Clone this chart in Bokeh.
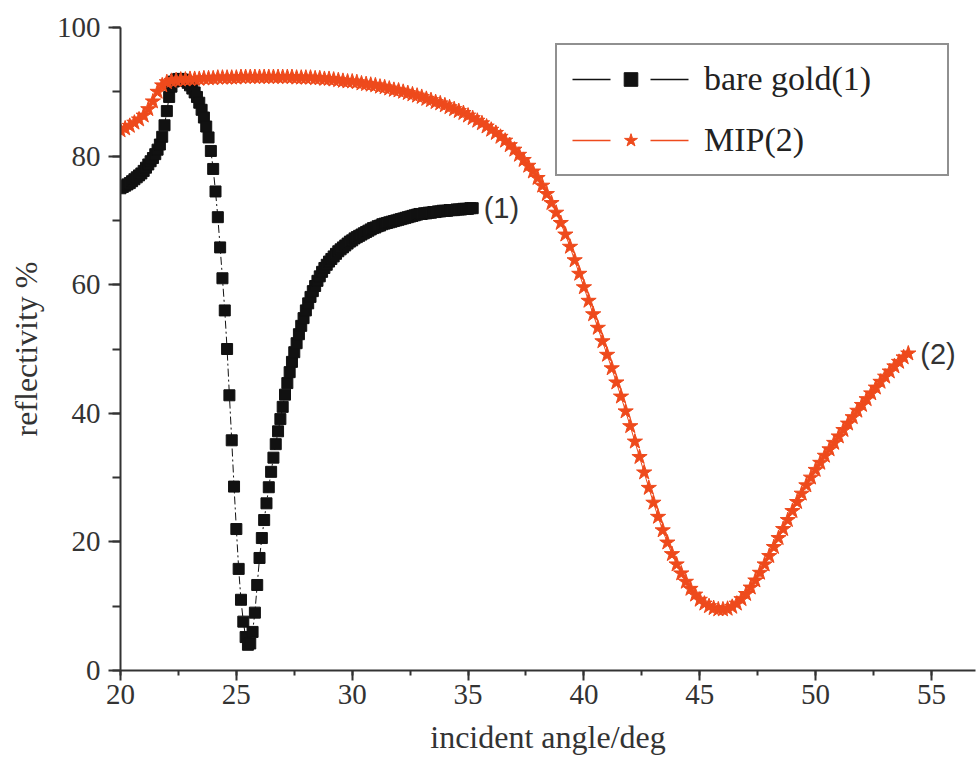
import numpy as np
from bokeh.plotting import figure
from bokeh.models import Range1d, SingleIntervalTicker, Legend, LegendItem, Label
from bokeh.embed import file_html
from bokeh.resources import INLINE

# ---- data ----
# incident angle grids (degrees)
gold_angle = np.round(np.arange(0, 153) * 0.1 + 20.0, 1)   # 20.0 .. 35.2, step 0.1
mip_angle = np.round(np.arange(0, 171) * 0.2 + 20.0, 1)    # 20.0 .. 54.0, step 0.2

# bare gold (1) reflectivity %
gold_refl = [
    75.0, 75.2, 75.4, 75.6, 75.8, 76.1, 76.4, 76.7, 77.0, 77.3,
    77.7, 78.2, 78.7, 79.2, 79.7, 80.3, 81.0, 81.8, 83.0, 84.8,
    87.0, 89.2, 90.8, 91.6, 91.9, 92.0, 92.0, 91.9, 91.7, 91.4,
    91.0, 90.5, 89.9, 89.2, 88.3, 87.2, 86.0, 84.6, 82.9, 80.8,
    78.0, 74.5, 70.5, 65.8, 61.0, 56.0, 50.0, 42.8, 35.8, 28.6,
    22.0, 15.8, 11.0, 7.6, 5.2, 4.0, 4.2, 6.0, 9.0, 13.3,
    17.5, 20.6, 23.4, 26.0, 28.5, 30.9, 33.1, 35.2, 37.2, 39.1,
    41.0, 42.9, 44.7, 46.4, 48.0, 49.5, 50.9, 52.3, 53.6, 54.8,
    56.0, 57.1, 58.1, 59.0, 59.8, 60.6, 61.3, 62.0, 62.6, 63.1,
    63.6, 64.0, 64.4, 64.8, 65.2, 65.5, 65.8, 66.1, 66.4, 66.7,
    66.9, 67.2, 67.4, 67.6, 67.8, 68.0, 68.2, 68.4, 68.6, 68.8,
    68.9, 69.1, 69.2, 69.4, 69.5, 69.6, 69.7, 69.8, 69.9, 70.0,
    70.1, 70.2, 70.3, 70.4, 70.5, 70.6, 70.7, 70.8, 70.9, 71.0,
    71.0, 71.1, 71.1, 71.2, 71.2, 71.3, 71.3, 71.4, 71.4, 71.5,
    71.5, 71.5, 71.6, 71.6, 71.6, 71.7, 71.7, 71.7, 71.8, 71.8,
    71.8, 71.9, 71.9,
]

# MIP (2) reflectivity %
mip_refl = [
    84.0, 84.3, 84.7, 85.2, 85.7, 86.3, 87.3, 88.5, 90.0, 91.0,
    91.5, 91.7, 91.8, 91.9, 91.9, 92.0, 92.0, 92.0, 92.1, 92.1,
    92.1, 92.2, 92.2, 92.2, 92.2, 92.2, 92.3, 92.3, 92.3, 92.3,
    92.3, 92.3, 92.3, 92.3, 92.3, 92.3, 92.3, 92.3, 92.2, 92.2,
    92.2, 92.2, 92.1, 92.1, 92.0, 92.0, 91.9, 91.8, 91.7, 91.6,
    91.6, 91.5, 91.3, 91.2, 91.1, 91.0, 90.8, 90.7, 90.5, 90.3,
    90.2, 90.0, 89.8, 89.6, 89.4, 89.2, 88.9, 88.7, 88.4, 88.2,
    87.9, 87.6, 87.3, 87.0, 86.7, 86.3, 85.9, 85.5, 85.1, 84.6,
    84.1, 83.6, 83.0, 82.4, 81.7, 81.0, 80.2, 79.4, 78.5, 77.6,
    76.6, 75.4, 74.1, 72.7, 71.2, 69.6, 67.8, 65.9, 63.8, 61.7,
    59.6, 57.5, 55.4, 53.3, 51.2, 49.1, 47.0, 44.8, 42.6, 40.3,
    38.0, 35.6, 33.2, 30.8, 28.4, 26.1, 23.9, 21.8, 19.9, 18.1,
    16.5, 15.1, 13.8, 12.7, 11.8, 11.0, 10.4, 10.0, 9.7, 9.5,
    9.5, 9.6, 9.9, 10.4, 11.1, 11.9, 12.9, 14.0, 15.2, 16.5,
    17.8, 19.2, 20.6, 22.0, 23.4, 24.8, 26.2, 27.5, 28.8, 30.0,
    31.2, 32.3, 33.4, 34.4, 35.4, 36.4, 37.4, 38.4, 39.4, 40.4,
    41.3, 42.2, 43.1, 44.0, 44.9, 45.7, 46.5, 47.3, 48.0, 48.7,
    49.3,
]

series_names = ["bare gold(1)", "MIP(2)"]
end_labels = ["(1)", "(2)"]
x_title = "incident angle/deg"
y_title = "reflectivity %"

GOLD = "#111111"
MIP = "#EE4A1C"
SERIF = "Liberation Serif"

p = figure(width=980, height=767, output_backend="svg", toolbar_location=None,
           x_range=Range1d(20, 56.9), y_range=Range1d(0, 100),
           min_border_left=120, min_border_right=5, min_border_top=27,
           min_border_bottom=97, outline_line_color=None,
           x_axis_location="below", y_axis_location="left")
p.grid.visible = False

# lines + markers
gl = p.line(gold_angle, gold_refl, line_color=GOLD, line_width=1,
            line_dash="8 3 2 3")
gs = p.scatter(gold_angle, gold_refl, marker="square", size=11,
               fill_color=GOLD, line_color=GOLD)
ml = p.line(mip_angle, mip_refl, line_color=MIP, line_width=1)
ms = p.scatter(mip_angle, mip_refl, marker="star", size=16,
               fill_color=MIP, line_color=MIP)

# legend-only styling (hidden renderers: line with a gap around the marker)
lg_gl = p.line(gold_angle, gold_refl, line_color=GOLD, line_width=1.5,
               line_dash="38 40", visible=False)
lg_gs = p.scatter(gold_angle, gold_refl, marker="square", size=10,
                  fill_color=GOLD, line_color=GOLD, visible=False)
lg_ml = p.line(mip_angle, mip_refl, line_color=MIP, line_width=1.5,
               line_dash="38 40", visible=False)
lg_ms = p.scatter(mip_angle, mip_refl, marker="star", size=13,
                  fill_color=MIP, line_color=MIP, visible=False)

# axes
for ax in (p.xaxis[0], p.yaxis[0]):
    ax.axis_line_color = "#333333"
    ax.axis_line_width = 2
    ax.major_tick_line_color = "#333333"
    ax.minor_tick_line_color = "#333333"
    ax.major_tick_line_width = 2
    ax.minor_tick_line_width = 2
    ax.major_tick_in = 0
    ax.minor_tick_in = 0
    ax.major_label_text_font = SERIF
    ax.major_label_text_font_size = "29px"
    ax.major_label_text_color = "#333333"
    ax.axis_label_text_font = SERIF
    ax.axis_label_text_font_style = "normal"
    ax.axis_label_text_font_size = "32px"
    ax.axis_label_text_color = "#333333"

p.xaxis.ticker = SingleIntervalTicker(interval=5, num_minor_ticks=2)
p.yaxis.ticker = SingleIntervalTicker(interval=20, num_minor_ticks=2)
p.xaxis.major_tick_out = 10
p.xaxis.minor_tick_out = 5
p.yaxis.major_tick_out = 12
p.yaxis.minor_tick_out = 8
p.xaxis.major_label_standoff = 4
p.yaxis.major_label_standoff = 8
p.xaxis.axis_label = x_title
p.yaxis.axis_label = y_title
p.xaxis.axis_label_standoff = 12
p.yaxis.axis_label_standoff = 10

# legend
legend = Legend(items=[LegendItem(label=series_names[0], renderers=[lg_gl, lg_gs]),
                       LegendItem(label=series_names[1], renderers=[lg_ml, lg_ms])],
                location=(435, 494), click_policy="none")
legend.border_line_color = "#222222"
legend.border_line_width = 2
legend.background_fill_alpha = 1
legend.inactive_fill_alpha = 0
legend.label_text_font = SERIF
legend.label_text_font_size = "34px"
legend.label_text_color = "#222222"
legend.glyph_width = 117
legend.glyph_height = 34
legend.label_height = 34
legend.label_width = 228
legend.spacing = 23
legend.padding = 15
legend.label_standoff = 15
legend.margin = 0
p.add_layout(legend)

# end labels
p.add_layout(Label(x=gold_angle[-1], y=gold_refl[-1], text=end_labels[0],
                   x_offset=11, text_baseline="middle",
                   text_font="Liberation Sans", text_font_size="29px",
                   text_color="#333333"))
p.add_layout(Label(x=mip_angle[-1], y=mip_refl[-1], text=end_labels[1],
                   x_offset=12, text_baseline="middle",
                   text_font="Liberation Sans", text_font_size="29px",
                   text_color="#333333"))

open("out.html", "w").write(file_html(p, INLINE))
